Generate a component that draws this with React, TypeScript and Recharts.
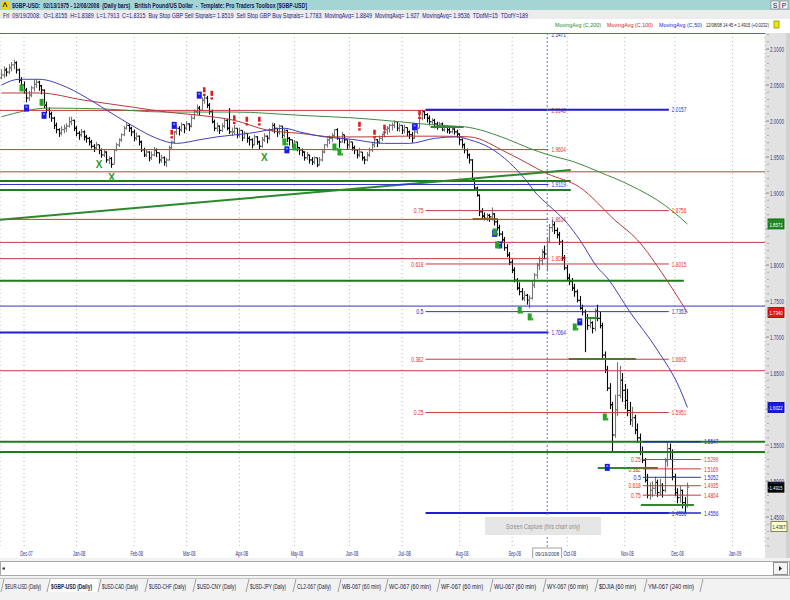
import React from 'react';
import {
  ComposedChart,
  Bar,
  Line,
  Scatter,
  XAxis,
  YAxis,
  CartesianGrid,
  ReferenceLine,
} from 'recharts';

const FONT = "'Liberation Sans Narrow','Liberation Sans',Arimo,Arial,sans-serif";

// ---------- daily bars: [high, low, close]; open = previous close ----------
const nov07 = [
  [2.072, 2.058, 2.064], [2.076, 2.06, 2.071], [2.074, 2.062, 2.068], [2.079, 2.065, 2.074],
  [2.082, 2.069, 2.078], [2.085, 2.072, 2.081], [2.083, 2.066, 2.071], [2.073, 2.053, 2.057],
  [2.061, 2.045, 2.05],
];
const dec07 = [
  [2.055, 2.038, 2.043], [2.046, 2.026, 2.032], [2.042, 2.028, 2.036], [2.049, 2.033, 2.046],
  [2.057, 2.041, 2.051], [2.058, 2.046, 2.054], [2.056, 2.042, 2.049], [2.05, 2.037, 2.043],
  [2.044, 2.018, 2.022], [2.027, 2.011, 2.015], [2.019, 2.004, 2.01], [2.013, 1.999, 2.004],
  [2.006, 1.989, 1.994], [1.998, 1.983, 1.988], [1.99, 1.978, 1.983], [1.993, 1.98, 1.988],
  [1.995, 1.983, 1.99], [1.997, 1.985, 1.993], [2.006, 1.991, 1.999], [2.006, 1.994, 2.001],
  [2.002, 1.986, 1.99],
];
const jan08 = [
  [1.993, 1.979, 1.983], [1.986, 1.974, 1.981], [1.989, 1.978, 1.985], [1.987, 1.973, 1.978],
  [1.981, 1.97, 1.976], [1.978, 1.966, 1.971], [1.974, 1.962, 1.965], [1.968, 1.957, 1.963],
  [1.971, 1.96, 1.967], [1.967, 1.954, 1.96], [1.962, 1.949, 1.953], [1.961, 1.95, 1.957],
  [1.958, 1.942, 1.946], [1.951, 1.94, 1.948], [1.95, 1.935, 1.94], [1.961, 1.942, 1.96],
  [1.97, 1.958, 1.967], [1.976, 1.964, 1.974], [1.983, 1.971, 1.981], [1.993, 1.979, 1.99],
  [1.998, 1.988, 1.994], [1.996, 1.985, 1.99], [1.992, 1.979, 1.985],
];
const feb08 = [
  [1.988, 1.972, 1.976], [1.984, 1.973, 1.979], [1.98, 1.966, 1.971], [1.973, 1.957, 1.96],
  [1.963, 1.95, 1.953], [1.961, 1.95, 1.957], [1.958, 1.944, 1.949], [1.958, 1.946, 1.953],
  [1.964, 1.951, 1.96], [1.962, 1.95, 1.956], [1.955, 1.941, 1.946], [1.953, 1.942, 1.949],
  [1.951, 1.938, 1.943], [1.949, 1.936, 1.946], [1.966, 1.945, 1.963], [1.973, 1.96, 1.971],
  [1.986, 1.969, 1.985], [1.994, 1.981, 1.99], [1.993, 1.98, 1.988], [1.998, 1.985, 1.995],
  [1.994, 1.983, 1.99],
];
const mar08 = [
  [2.0, 1.987, 1.996], [1.997, 1.986, 1.993], [2.008, 1.991, 2.004], [2.016, 2.002, 2.013],
  [2.023, 2.009, 2.018], [2.021, 2.008, 2.015], [2.033, 2.014, 2.029], [2.037, 2.024, 2.032],
  [2.035, 2.018, 2.022], [2.025, 2.009, 2.013], [2.016, 1.997, 1.999], [2.002, 1.986, 1.99],
  [1.998, 1.985, 1.993], [1.994, 1.982, 1.987], [1.997, 1.985, 1.993], [2.004, 1.99, 2.001],
  [2.003, 1.987, 1.99], [2.018, 1.982, 1.985], [1.991, 1.979, 1.985], [1.995, 1.982, 1.99],
  [1.99, 1.976, 1.98],
];
const apr08 = [
  [1.991, 1.978, 1.987], [1.987, 1.972, 1.977], [1.986, 1.975, 1.983], [1.983, 1.97, 1.976],
  [1.979, 1.966, 1.974], [1.976, 1.962, 1.967], [1.981, 1.966, 1.978], [1.979, 1.967, 1.971],
  [1.973, 1.96, 1.965], [1.978, 1.963, 1.974], [1.983, 1.971, 1.979], [1.98, 1.969, 1.976],
  [1.99, 1.974, 1.988], [1.998, 1.985, 1.994], [1.997, 1.983, 1.99], [1.99, 1.978, 1.985],
  [1.995, 1.981, 1.993], [1.993, 1.976, 1.98], [1.99, 1.977, 1.987], [1.988, 1.971, 1.976],
  [1.978, 1.966, 1.974], [1.974, 1.963, 1.967],
];
const may08 = [
  [1.974, 1.963, 1.971], [1.97, 1.958, 1.963], [1.964, 1.953, 1.96], [1.962, 1.951, 1.957],
  [1.958, 1.945, 1.949], [1.957, 1.946, 1.953], [1.953, 1.941, 1.946], [1.95, 1.939, 1.943],
  [1.951, 1.94, 1.949], [1.949, 1.936, 1.939], [1.95, 1.938, 1.946], [1.96, 1.944, 1.957],
  [1.968, 1.955, 1.967], [1.976, 1.963, 1.974], [1.98, 1.968, 1.976], [1.983, 1.971, 1.98],
  [1.989, 1.977, 1.988], [1.99, 1.974, 1.976], [1.976, 1.963, 1.971], [1.985, 1.97, 1.981],
  [1.981, 1.969, 1.974], [1.974, 1.96, 1.967],
];
const jun08 = [
  [1.975, 1.962, 1.971], [1.971, 1.959, 1.963], [1.966, 1.954, 1.96], [1.961, 1.948, 1.953],
  [1.963, 1.95, 1.957], [1.957, 1.945, 1.949], [1.951, 1.94, 1.946], [1.957, 1.944, 1.953],
  [1.963, 1.95, 1.96], [1.97, 1.957, 1.967], [1.976, 1.963, 1.974], [1.975, 1.964, 1.971],
  [1.98, 1.968, 1.976], [1.983, 1.972, 1.981], [1.99, 1.977, 1.988], [1.993, 1.981, 1.99],
  [1.996, 1.984, 1.994], [1.998, 1.987, 1.994], [2.001, 1.99, 1.999], [1.999, 1.986, 1.99],
  [1.997, 1.985, 1.994],
];
const jul08 = [
  [1.992, 1.982, 1.987], [1.995, 1.983, 1.991], [1.991, 1.979, 1.985], [1.987, 1.975, 1.981],
  [1.985, 1.97, 1.976], [1.989, 1.975, 1.985], [1.996, 1.982, 1.99], [2.009, 1.99, 2.004],
  [2.0157, 2.001, 2.013], [2.014, 2.003, 2.009], [2.011, 1.998, 2.004], [2.008, 1.994, 1.999],
  [2.004, 1.995, 2.001], [2.003, 1.99, 1.996], [1.999, 1.988, 1.993], [1.999, 1.991, 1.996],
  [1.998, 1.986, 1.988], [1.995, 1.985, 1.992], [1.994, 1.983, 1.988], [1.991, 1.982, 1.985],
  [1.992, 1.983, 1.989], [1.99, 1.981, 1.985], [1.988, 1.977, 1.982],
];
const aug08 = [
  [1.983, 1.967, 1.974], [1.976, 1.962, 1.967], [1.969, 1.955, 1.96], [1.962, 1.948, 1.953],
  [1.955, 1.941, 1.946], [1.947, 1.917, 1.918], [1.921, 1.905, 1.907], [1.909, 1.895, 1.897],
  [1.898, 1.868, 1.874], [1.879, 1.864, 1.868], [1.873, 1.862, 1.865], [1.872, 1.861, 1.869],
  [1.871, 1.86, 1.867], [1.88, 1.862, 1.871], [1.872, 1.855, 1.86], [1.864, 1.848, 1.852],
  [1.856, 1.84, 1.843], [1.847, 1.831, 1.835], [1.839, 1.82, 1.824], [1.829, 1.811, 1.814],
  [1.818, 1.8, 1.804],
];
const sep08 = [
  [1.808, 1.789, 1.793], [1.797, 1.776, 1.779], [1.782, 1.765, 1.768], [1.776, 1.758, 1.763],
  [1.768, 1.751, 1.754], [1.764, 1.75, 1.758], [1.76, 1.745, 1.751], [1.758, 1.74, 1.754],
  [1.778, 1.752, 1.772], [1.789, 1.768, 1.786], [1.803, 1.781, 1.8], [1.812, 1.793, 1.806],
  [1.822, 1.8, 1.818], [1.827, 1.808, 1.8155], [1.8389, 1.7913, 1.8315], [1.857, 1.831, 1.852],
  [1.8634, 1.846, 1.856], [1.86, 1.843, 1.848], [1.852, 1.837, 1.842], [1.846, 1.828, 1.832],
  [1.835, 1.806, 1.81], [1.814, 1.793, 1.796],
];
const oct08 = [
  [1.8, 1.778, 1.782], [1.788, 1.772, 1.777], [1.782, 1.764, 1.768], [1.774, 1.756, 1.763],
  [1.766, 1.748, 1.751], [1.757, 1.738, 1.74], [1.745, 1.73, 1.735], [1.738, 1.679, 1.726],
  [1.732, 1.71, 1.716], [1.728, 1.712, 1.72], [1.722, 1.705, 1.712], [1.74, 1.708, 1.736],
  [1.745, 1.722, 1.726], [1.735, 1.712, 1.716], [1.72, 1.67, 1.675], [1.68, 1.65, 1.654],
  [1.66, 1.625, 1.629], [1.636, 1.6, 1.606], [1.61, 1.539, 1.564], [1.62, 1.56, 1.599],
  [1.665, 1.59, 1.619], [1.66, 1.615, 1.64], [1.65, 1.61, 1.626],
];
const nov08 = [
  [1.635, 1.6, 1.612], [1.628, 1.59, 1.598], [1.61, 1.578, 1.585], [1.603, 1.575, 1.588],
  [1.592, 1.565, 1.571], [1.58, 1.553, 1.56], [1.566, 1.536, 1.54], [1.548, 1.525, 1.529],
  [1.532, 1.498, 1.501], [1.51, 1.476, 1.48], [1.498, 1.474, 1.487], [1.5, 1.478, 1.49],
  [1.506, 1.482, 1.498], [1.502, 1.478, 1.484], [1.503, 1.48, 1.494], [1.497, 1.477, 1.487],
  [1.532, 1.484, 1.528], [1.5547, 1.52, 1.545], [1.552, 1.53, 1.54], [1.544, 1.501, 1.506],
];
const dec08 = [
  [1.51, 1.479, 1.484], [1.49, 1.469, 1.477], [1.493, 1.47, 1.487], [1.488, 1.462, 1.47],
  [1.478, 1.4556, 1.466], [1.498, 1.463, 1.4915],
];

const barMonths = [nov07, dec07, jan08, feb08, mar08, apr08, may08, jun08, jul08, aug08, sep08, oct08, nov08, dec08];
const firstOpen = 2.06;

// ---------- time axis: trading-day index of each month start ----------
const monthStarts = [9, 30, 53, 74, 95, 117, 139, 160, 183, 204, 226, 249, 269, 292];
const monthNames = ['Dec-07', 'Jan-08', 'Feb-08', 'Mar-08', 'Apr-08', 'May-08', 'Jun-08', 'Jul-08', 'Aug-08', 'Sep-08', 'Oct-08', 'Nov-08', 'Dec-08', 'Jan-09'];
const selectedDay = 218; // Fri 09/19/2008
const selectedDate = '09/19/2008';

// ---------- moving averages: [day index, value] ----------
const ma50 = [
  [0, 2.05], [7, 2.058], [15, 2.058], [26, 2.047], [37, 2.026], [43, 2.013], [53, 1.992], [62, 1.976],
  [70, 1.969], [79, 1.974], [86, 1.978], [99, 1.983], [113, 1.99], [119, 1.985], [129, 1.978], [139, 1.975],
  [153, 1.969], [163, 1.969], [173, 1.976], [182, 1.978], [187, 1.974], [195, 1.963], [203, 1.942],
  [209, 1.92], [214, 1.898], [218, 1.8849], [226, 1.858], [231, 1.835], [238, 1.797], [242, 1.782],
  [251, 1.735], [262, 1.682], [271, 1.628], [274, 1.6022],
];
const ma100 = [
  [0, 2.039], [15, 2.039], [33, 2.029], [53, 2.019], [66, 2.0125], [79, 2.008], [93, 2.001], [106, 1.9875],
  [119, 1.983], [133, 1.978], [146, 1.978], [159, 1.979], [175, 1.979], [187, 1.978], [202, 1.956],
  [218, 1.927], [231, 1.908], [245, 1.8625], [254, 1.835], [265, 1.783], [274, 1.734],
];
const ma200 = [
  [0, 2.006], [19, 2.018], [39, 2.017], [66, 2.0125], [93, 2.0125], [119, 2.008], [146, 2.003], [159, 1.999],
  [175, 1.994], [185, 1.992], [202, 1.975], [211, 1.962], [218, 1.9536], [229, 1.943], [239, 1.929],
  [251, 1.911], [265, 1.883], [274, 1.8571],
];

// ---------- signal markers: [day index, price] ----------
const buyStops = [[10, 2.018], [17, 2.008], [69, 1.994], [79, 2.036], [114, 1.96], [165, 1.992], [197, 1.844], [199, 1.828], [231, 1.721], [242, 1.519]];
const sellMarks = [[68, 1.981], [81, 2.04], [84, 2.035], [93, 2.001], [98, 1.999], [103, 1.999], [143, 1.992], [149, 1.981], [153, 1.988], [167, 2.008]];
const buyMarks = [[8, 2.046], [16, 2.026], [113, 1.971], [117, 1.964], [133, 1.964], [135, 1.957], [197, 1.846], [198, 1.828], [207, 1.7375], [211, 1.728], [229, 1.714], [241, 1.589]];
const swingLows = [[39, 1.939], [44, 1.921], [105, 1.949]];

// ---------- horizontal studies ----------
const offChartLevel = 2.1471;
const markerLevels = [
  { price: 2.0148, tone: 'red' },
  { price: 1.9604, tone: 'red' },
  { price: 1.9119, tone: 'blue' },
  { price: 1.8634, tone: 'red' },
  { price: 1.8089, tone: 'red' },
  { price: 1.7064, tone: 'blueBold' },
];
const swingHigh = 2.0157;
const swingLow = 1.4556;
const swingFib = [
  { ratio: '0.75', price: 1.8756, tone: 'red' },
  { ratio: '0.618', price: 1.8015, tone: 'red' },
  { ratio: '0.5', price: 1.7353, tone: 'blue' },
  { ratio: '0.382', price: 1.6692, tone: 'red' },
  { ratio: '0.25', price: 1.5951, tone: 'red' },
];
const lateHigh = 1.5547;
const lateLow = 1.4556;
const lateFib = [
  { ratio: '0.25', price: 1.5299, tone: 'red' },
  { ratio: '0.382', price: 1.5169, tone: 'red' },
  { ratio: '0.5', price: 1.5052, tone: 'blue' },
  { ratio: '0.618', price: 1.4935, tone: 'red' },
  { ratio: '0.75', price: 1.4804, tone: 'red' },
];
const fullLevels = [
  { price: 1.9295, tone: 'red' },
  { price: 1.8315, tone: 'red' },
  { price: 1.743, tone: 'blue' },
  { price: 1.6532, tone: 'red' },
  { price: 1.5547, tone: 'greenBold' },
  { price: 1.5403, tone: 'greenBold' },
];
const supportBands = [
  { price: 1.9167, from: -0.6, to: 227.4 },
  { price: 1.9042, from: -0.6, to: 227.4 },
  { price: 1.7783, from: -0.6, to: 272.6 },
];
const shortLevels = [
  { price: 1.9917, from: 171.4, to: 184.6, color: '#2f8a2f' },
  { price: 1.8639, from: 188.2, to: 198.2, color: '#8a6a12' },
  { price: 1.7264, from: 233.4, to: 238.2, color: '#2f8a2f' },
  { price: 1.6694, from: 226.6, to: 253.4, color: '#2f8a2f' },
  { price: 1.5181, from: 238.2, to: 262.2, color: '#2f8a2f' },
  { price: 1.4667, from: 255.4, to: 276.6, color: '#2f8a2f' },
];
const trendFrom = { i: -0.6, p: 1.863 };
const trendTo = { i: 227.4, p: 1.932 };
const cursorValue = 1.4367;

// ---------- layout ----------
const X_MIN = -0.6;
const X_MAX = 305;
const Y_MIN = 1.4084;
const Y_MAX = 2.1223;
const MARKER_END = 218.5;
const SWING_SPAN = [169.4, 266.6];
const LATE_SPAN = [256.2, 279.4];

const TONES: Record<string, { stroke: string; width: number; text: string }> = {
  red: { stroke: '#c83a3a', width: 1, text: '#e0302f' },
  blue: { stroke: '#3434c4', width: 1, text: '#2a2ad4' },
  blueBold: { stroke: '#1f1fd0', width: 2, text: '#2a2ad4' },
  greenBold: { stroke: '#1d7d1d', width: 2, text: '#1d7d1d' },
};

type Row = {
  i: number; o: number; h: number; l: number; c: number; range: [number, number];
  ma50?: number; ma100?: number; ma200?: number;
};

function buildRows(): Row[] {
  const rows: Row[] = [];
  let prev = firstOpen;
  let i = 0;
  barMonths.forEach((month) => {
    month.forEach(([hi, lo, c]) => {
      const o = prev;
      const h = Math.max(hi, o, c);
      const l = Math.min(lo, o, c);
      rows.push({ i, o, h, l, c, range: [l, h] });
      prev = c;
      i += 1;
    });
  });
  const attach = (pts: number[][], key: 'ma50' | 'ma100' | 'ma200') => {
    pts.forEach(([idx, v]) => {
      if (rows[idx]) rows[idx][key] = v;
    });
  };
  attach(ma50, 'ma50');
  attach(ma100, 'ma100');
  attach(ma200, 'ma200');
  return rows;
}

const rows = buildRows();
const lastRow = rows[rows.length - 1];
const selRow = rows[selectedDay];
const toPoints = (pts: number[][]) => pts.map(([i, p]) => ({ i, p }));

const yTicks: number[] = [];
for (let k = 141; k <= 212; k += 1) yTicks.push(k / 100);

const axisTags = [
  { value: ma200[ma200.length - 1][1], fill: '#1f8a1f', color: '#ffffff', border: '#0f5f0f' },
  { value: ma100[ma100.length - 1][1], fill: '#e01818', color: '#ffffff', border: '#a00000' },
  { value: ma50[ma50.length - 1][1], fill: '#1818e8', color: '#ffffff', border: '#0000a0' },
  { value: lastRow.c, fill: '#000000', color: '#ffffff', border: '#000000' },
];

// ---------- custom marks ----------
function OhlcMark(props: any) {
  const { x, y, width, height } = props;
  const d = props.payload || props;
  if (d == null || y == null || height == null) return null;
  const { o, h, l, c } = d;
  const cx = Math.round(x + width / 2) + 0.5;
  const span = h - l || 1e-6;
  const yAt = (v: number) => y + ((h - v) / span) * height;
  const color = c < o ? '#050505' : '#767676';
  return (
    <g stroke={color} strokeWidth={1.1}>
      <line x1={cx} x2={cx} y1={y} y2={y + Math.max(height, 1)} />
      <line x1={cx - 1.6} x2={cx} y1={yAt(o)} y2={yAt(o)} />
      <line x1={cx} x2={cx + 1.6} y1={yAt(c)} y2={yAt(c)} />
    </g>
  );
}

function LevelLabel(props: any) {
  const vb = props.viewBox || {};
  const x = vb.x ?? 0;
  const y = vb.y ?? 0;
  const w = vb.width ?? 0;
  const { left, right, color } = props;
  return (
    <g fontFamily={FONT} fontSize={7.5} fill={color}>
      {left ? (
        <text x={x - 2} y={y + 2.7} textAnchor="end" textLength={left.length * 2.45} lengthAdjust="spacingAndGlyphs">
          {left}
        </text>
      ) : null}
      {right ? (
        <text x={x + w + 3} y={y + 2.7} textLength={right.length * 2.4} lengthAdjust="spacingAndGlyphs">
          {right}
        </text>
      ) : null}
    </g>
  );
}

function AxisTag(props: any) {
  const vb = props.viewBox || {};
  const y = vb.y ?? 0;
  const x0 = (vb.x ?? 0) + (vb.width ?? 0) + props.dx;
  const text = props.value.toFixed(4);
  return (
    <g>
      <rect x={x0} y={y - 5} width={props.w} height={10} fill={props.fill} stroke={props.border} strokeWidth={0.8} />
      <text x={x0 + props.w / 2} y={y + 2.6} textAnchor="middle" fontFamily={FONT} fontSize={6} fill={props.color}
        textLength={13} lengthAdjust="spacingAndGlyphs">{text}</text>
    </g>
  );
}

function DateTag(props: any) {
  const vb = props.viewBox || {};
  const x = vb.x ?? 0;
  const bottom = (vb.y ?? 0) + (vb.height ?? 0);
  return (
    <g>
      <rect x={x - 14.5} y={bottom + 1} width={29} height={11} fill="#ffffff" stroke="#8a8a8a" strokeWidth={0.8} />
      <text x={x} y={bottom + 9.3} textAnchor="middle" fontFamily={FONT} fontSize={6} fill="#303060"
        textLength={24} lengthAdjust="spacingAndGlyphs">{props.text}</text>
    </g>
  );
}

function TopLevelLabel(props: any) {
  const vb = props.viewBox || {};
  const x = (vb.x ?? 0) + (vb.width ?? 0);
  const y = vb.y ?? 0;
  return (
    <text x={x + 3} y={y + 3.5} fontFamily={FONT} fontSize={7.5} fill="#2a2ad4" textLength={14.4} lengthAdjust="spacingAndGlyphs">
      {props.text}
    </text>
  );
}

const BuyStopShape = (p: any) => (
  <g>
    <rect x={p.cx - 2.5} y={p.cy - 3.5} width={5} height={7} fill="#1a1ae6" />
    <rect x={p.cx - 1} y={p.cy - 2} width={2} height={1.5} fill="#8fa0ff" />
  </g>
);
const SellShape = (p: any) => (
  <g fill="#e21c1c">
    <rect x={p.cx - 1.3} y={p.cy - 5} width={2.6} height={5} />
    <rect x={p.cx - 1.3} y={p.cy + 1.5} width={2.6} height={2.2} />
  </g>
);
const BuyShape = (p: any) => (
  <g fill="#27a327">
    <rect x={p.cx - 2} y={p.cy - 3.5} width={4} height={7} />
    <rect x={p.cx + 2} y={p.cy + 1} width={1.5} height={2.5} />
  </g>
);
const SwingLowShape = (p: any) => (
  <text x={p.cx} y={p.cy + 3.5} textAnchor="middle" fontFamily={FONT} fontSize={10} fill="#2a9a2a" fontWeight="bold">
    X
  </text>
);

function MonthTick(props: any) {
  const { x, y, payload } = props;
  const idx = monthStarts.indexOf(payload.value);
  const label = idx >= 0 ? monthNames[idx] : '';
  return (
    <text x={x + 2.5} y={y + 1} textAnchor="middle" fontFamily={FONT} fontSize={6.5} fill="#2d2d88"
      textLength={12.5} lengthAdjust="spacingAndGlyphs">{label}</text>
  );
}

function PriceTick(props: any) {
  const { x, y, payload } = props;
  const v = payload.value as number;
  const major = Math.round(v * 100) % 5 === 0;
  if (!major) {
    return <line x1={x + 2} x2={x + 4} y1={y} y2={y} stroke="#9a9aaa" strokeWidth={0.8} />;
  }
  const covered = axisTags.some((t) => Math.abs(t.value - v) < 0.008);
  return (
    <g>
      <line x1={x + 1} x2={x + 4} y1={y} y2={y} stroke="#6a6a8a" strokeWidth={0.8} />
      {covered ? null : (
        <text x={x + 12} y={y + 2.6} textAnchor="middle" fontFamily={FONT} fontSize={6.5} fill="#3a3a7e"
          textLength={14} lengthAdjust="spacingAndGlyphs">{v.toFixed(4)}</text>
      )}
    </g>
  );
}

// ---------- window chrome ----------
const tabNames = [
  '$EUR-USD (Daily)', '$GBP-USD (Daily)', '$USD-CAD (Daily)', '$USD-CHF (Daily)', '$USD-CNY (Daily)',
  '$USD-JPY (Daily)', 'CL2-067 (Daily)', 'WB-067 (60 min)', 'WC-067 (60 min)', 'WF-067 (60 min)',
  'WU-067 (60 min)', 'WY-067 (60 min)', '$DJIA (60 min)', 'YM-067 (240 min)',
];
const tabX = [5, 51, 102, 149, 197, 250, 297, 342, 389, 441, 494, 547, 599, 648];
const tabW = [39, 44, 39, 40, 42, 39, 37, 42, 45, 45, 45, 44, 40, 49];

function Header() {
  const title = '$GBP-USD:  02/13/1975 - 12/08/2008  (Daily bars)   British Pound/US Dollar  -  Template: Pro Traders Toolbox [$GBP-USD]';
  const info =
    `Fri  09/19/2008:  O=${selRow.o.toFixed(4)}  H=${selRow.h.toFixed(4)}  L=${selRow.l.toFixed(4)}  C=${selRow.c.toFixed(4)}  ` +
    'Buy Stop GBP Sell Signals= 1.8519  Sell Stop GBP Buy Signals= 1.7783  MovingAvg= 1.8849  MovingAvg= 1.927  MovingAvg= 1.9536  TDofM=15  TDofY=189';
  return (
    <svg width={790} height={33} style={{ position: 'absolute', left: 0, top: 0 }}>
      <rect x={0} y={0} width={790} height={10} fill="#a4d5d3" />
      <g>
        <rect x={1} y={1} width={8} height={8} fill="#f2d400" rx={1} />
        <path d="M3 7 L5 2.5 L7 7" stroke="#202020" strokeWidth={1} fill="none" />
      </g>
      <text x={12} y={8} fontFamily={FONT} fontSize={8} fontWeight="bold" fill="#15155a" textLength={295}
        lengthAdjust="spacingAndGlyphs" xmlSpace="preserve">{title}</text>
      <rect x={771} y={1} width={8} height={8} fill="#f4f4f4" stroke="#7a7a7a" strokeWidth={0.6} />
      <rect x={780} y={1} width={8} height={8} fill="#f4f4f4" stroke="#7a7a7a" strokeWidth={0.6} />
      <text x={775} y={7.8} textAnchor="middle" fontFamily={FONT} fontSize={7} fill="#202050">S</text>
      <text x={784} y={7.8} textAnchor="middle" fontFamily={FONT} fontSize={7} fill="#202050">P</text>
      <rect x={0} y={10} width={790} height={9} fill="#ececec" />
      <text x={3} y={17.6} fontFamily={FONT} fontSize={8} fill="#1b1b82" textLength={525}
        lengthAdjust="spacingAndGlyphs" xmlSpace="preserve">{info}</text>
      <rect x={0} y={19} width={790} height={14} fill="#ffffff" />
      <g fontFamily={FONT} fontSize={6}>
        <text x={555} y={27} fill="#1d8a1d" textLength={46} lengthAdjust="spacingAndGlyphs">MovingAvg (C,200)</text>
        <text x={607} y={27} fill="#d42020" textLength={46} lengthAdjust="spacingAndGlyphs">MovingAvg (C,100)</text>
        <text x={659} y={27} fill="#2020d4" textLength={43} lengthAdjust="spacingAndGlyphs">MovingAvg (C,50)</text>
        <text x={706} y={27} fill="#202020" textLength={63} lengthAdjust="spacingAndGlyphs">
          {`12/08/08 14:45 = ${lastRow.c.toFixed(4)} (+0.0232)`}
        </text>
      </g>
      <rect x={774} y={21} width={5} height={7} fill="#f0ec00" stroke="#6a6a00" strokeWidth={0.6} />
    </svg>
  );
}

function Footer() {
  return (
    <svg width={790} height={42} style={{ position: 'absolute', left: 0, top: 558 }}>
      <rect x={0} y={0} width={790} height={42} fill="#f2f2f2" />
      <rect x={0.5} y={3.5} width={789} height={14} fill="#ffffff" stroke="#a8a8a8" />
      <path d="M5 10.5 L2.5 10.5" stroke="#303030" strokeWidth={2} />
      <rect x={773.5} y={4.5} width={14} height={12} fill="#f4f4f4" stroke="#909090" />
      <path d="M779 8 L782 10.5 L779 13 Z" fill="#202020" />
      <line x1={0} x2={790} y1={20.5} y2={20.5} stroke="#c4c4c4" />
      {tabNames.map((name, k) => {
        const active = k === 1;
        const x = tabX[k];
        const w = tabW[k];
        return (
          <g key={name}>
            {active ? <rect x={x - 3} y={21} width={w + 6} height={13} fill="#ffffff" /> : null}
            <line x1={x - 4} y1={34} x2={x - 1} y2={21} stroke="#8a8a8a" strokeWidth={0.8} />
            <text x={x} y={30.5} fontFamily={FONT} fontSize={6.5} fontWeight={active ? 'bold' : 'normal'}
              fill="#202040" textLength={w - 3} lengthAdjust="spacingAndGlyphs">{name}</text>
          </g>
        );
      })}
      <line x1={700} y1={34} x2={703} y2={21} stroke="#8a8a8a" strokeWidth={0.8} />
    </svg>
  );
}

export default function App() {
  return (
    <div style={{ position: 'absolute', left: 0, top: 0, width: 790, height: 600, background: '#ffffff', overflow: 'hidden' }}>
      <div style={{ position: 'absolute', left: 765, top: 29, width: 25, height: 530, background: '#e2e2e2' }} />
      <div style={{ position: 'absolute', left: 786, top: 29, width: 4, height: 530, background: '#d2d2d2' }} />
      <div style={{ position: 'absolute', left: 0, top: 0 }}>
        <ComposedChart width={790} height={560} data={rows} margin={{ top: 33, right: 0, bottom: 0, left: 0 }}>
          <CartesianGrid vertical horizontal={false} stroke="#b4b4b4" strokeDasharray="1 3" />
          <XAxis
            dataKey="i"
            type="number"
            domain={[X_MIN, X_MAX]}
            allowDataOverflow
            ticks={monthStarts}
            interval={0}
            tick={(p: any) => <MonthTick {...p} />}
            tickLine={false}
            axisLine={false}
            height={13}
          />
          <YAxis
            orientation="right"
            type="number"
            domain={[Y_MIN, Y_MAX]}
            allowDataOverflow
            ticks={yTicks}
            interval={0}
            tick={(p: any) => <PriceTick {...p} />}
            tickLine={false}
            axisLine={false}
            tickSize={0}
            tickMargin={0}
            width={25}
          />

          {/* full-width levels */}
          {fullLevels.map((lv) => (
            <ReferenceLine key={`f${lv.price}`} y={lv.price} stroke={TONES[lv.tone].stroke} strokeWidth={TONES[lv.tone].width} ifOverflow="visible" />
          ))}
          {supportBands.map((lv) => (
            <ReferenceLine key={`s${lv.price}`} segment={[{ x: lv.from, y: lv.price }, { x: lv.to, y: lv.price }]}
              stroke="#1d7d1d" strokeWidth={2} ifOverflow="visible" />
          ))}
          <ReferenceLine segment={[{ x: trendFrom.i, y: trendFrom.p }, { x: trendTo.i, y: trendTo.p }]}
            stroke="#2a8a2a" strokeWidth={2} ifOverflow="visible" />
          {shortLevels.map((lv) => (
            <ReferenceLine key={`h${lv.price}`} segment={[{ x: lv.from, y: lv.price }, { x: lv.to, y: lv.price }]}
              stroke={lv.color} strokeWidth={2} ifOverflow="visible" />
          ))}

          {/* level set ending at the selected day */}
          <ReferenceLine y={Math.min(offChartLevel, Y_MAX)} stroke="#2424d0" strokeWidth={1.5} ifOverflow="visible" />
          <ReferenceLine segment={[{ x: X_MIN, y: Math.min(offChartLevel, Y_MAX) }, { x: MARKER_END, y: Math.min(offChartLevel, Y_MAX) }]}
            stroke="none" ifOverflow="visible" label={<TopLevelLabel text={offChartLevel.toFixed(4)} />} />
          {markerLevels.map((lv) => (
            <ReferenceLine key={`m${lv.price}`} segment={[{ x: X_MIN, y: lv.price }, { x: MARKER_END, y: lv.price }]}
              stroke={TONES[lv.tone].stroke} strokeWidth={TONES[lv.tone].width} ifOverflow="visible"
              label={<LevelLabel right={lv.price.toFixed(4)} color={TONES[lv.tone].text} />} />
          ))}

          {/* retracement of the July high to the December low */}
          <ReferenceLine segment={[{ x: SWING_SPAN[0], y: swingHigh }, { x: SWING_SPAN[1], y: swingHigh }]}
            stroke="#1f1fd0" strokeWidth={2} ifOverflow="visible"
            label={<LevelLabel right={swingHigh.toFixed(4)} color="#2a2ad4" />} />
          {swingFib.map((lv) => (
            <ReferenceLine key={`w${lv.price}`} segment={[{ x: SWING_SPAN[0], y: lv.price }, { x: SWING_SPAN[1], y: lv.price }]}
              stroke={TONES[lv.tone].stroke} strokeWidth={1} ifOverflow="visible"
              label={<LevelLabel left={lv.ratio} right={lv.price.toFixed(4)} color={TONES[lv.tone].text} />} />
          ))}
          <ReferenceLine segment={[{ x: SWING_SPAN[0], y: swingLow }, { x: SWING_SPAN[1], y: swingLow }]}
            stroke="#1f1fd0" strokeWidth={2} ifOverflow="visible"
            label={<LevelLabel right={swingLow.toFixed(4)} color="#2a2ad4" />} />

          {/* retracement of the late-November bounce */}
          <ReferenceLine segment={[{ x: LATE_SPAN[0], y: lateHigh }, { x: LATE_SPAN[1], y: lateHigh }]}
            stroke="#2424d0" strokeWidth={1.5} ifOverflow="visible"
            label={<LevelLabel right={lateHigh.toFixed(4)} color="#2a2ad4" />} />
          {lateFib.map((lv) => (
            <ReferenceLine key={`l${lv.price}`} segment={[{ x: LATE_SPAN[0], y: lv.price }, { x: LATE_SPAN[1], y: lv.price }]}
              stroke={TONES[lv.tone].stroke} strokeWidth={1} ifOverflow="visible"
              label={<LevelLabel left={lv.ratio} right={lv.price.toFixed(4)} color={TONES[lv.tone].text} />} />
          ))}
          <ReferenceLine segment={[{ x: LATE_SPAN[0], y: lateLow }, { x: LATE_SPAN[1], y: lateLow }]}
            stroke="#2424d0" strokeWidth={1.5} ifOverflow="visible"
            label={<LevelLabel right={lateLow.toFixed(4)} color="#2a2ad4" />} />

          <ReferenceLine x={selectedDay} stroke="#7070c8" strokeDasharray="2 2" ifOverflow="visible"
            label={<DateTag text={selectedDate} />} />

          <Line dataKey="ma200" stroke="#3f8a3f" strokeWidth={1} dot={false} connectNulls type="monotone" isAnimationActive={false} />
          <Line dataKey="ma100" stroke="#b83a3a" strokeWidth={1} dot={false} connectNulls type="monotone" isAnimationActive={false} />
          <Line dataKey="ma50" stroke="#4040b8" strokeWidth={1} dot={false} connectNulls type="monotone" isAnimationActive={false} />

          <Bar dataKey="range" barSize={2} shape={(p: any) => <OhlcMark {...p} />} isAnimationActive={false} />

          <Scatter data={toPoints(buyStops)} dataKey="p" shape={BuyStopShape} isAnimationActive={false} />
          <Scatter data={toPoints(sellMarks)} dataKey="p" shape={SellShape} isAnimationActive={false} />
          <Scatter data={toPoints(buyMarks)} dataKey="p" shape={BuyShape} isAnimationActive={false} />
          <Scatter data={toPoints(swingLows)} dataKey="p" shape={SwingLowShape} isAnimationActive={false} />

          {axisTags.map((t) => (
            <ReferenceLine key={`t${t.value}`} y={t.value} stroke="none" ifOverflow="visible"
              label={<AxisTag value={t.value} fill={t.fill} color={t.color} border={t.border} dx={3} w={16} />} />
          ))}
          <ReferenceLine y={cursorValue} stroke="none" ifOverflow="visible"
            label={<AxisTag value={cursorValue} fill="#ffffd0" color="#202020" border="#6a6a30" dx={6} w={16} />} />
        </ComposedChart>
      </div>
      <svg width={116} height={18} style={{ position: 'absolute', left: 485, top: 517 }}>
        <rect x={0} y={0} width={116} height={18} fill="#e6e6e6" />
        <text x={58} y={12} textAnchor="middle" fontFamily={FONT} fontSize={6.5} fill="#8c8c8c"
          textLength={74} lengthAdjust="spacingAndGlyphs">Screen Capture (this chart only)</text>
      </svg>
      <Header />
      <Footer />
    </div>
  );
}
